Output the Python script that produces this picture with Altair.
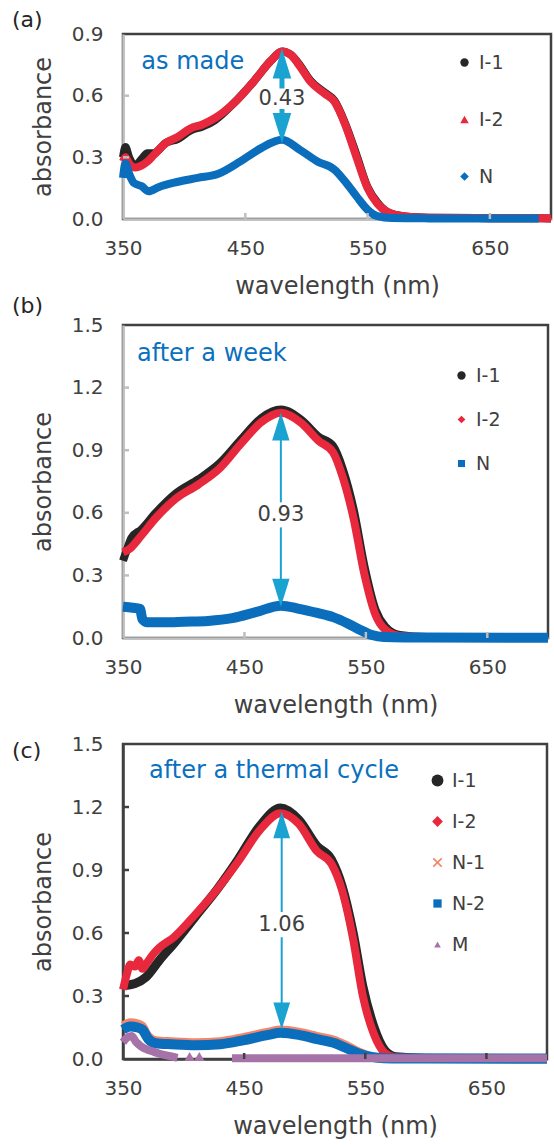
import altair as alt
import pandas as pd

FONT = "DejaVu Sans"
C_I1 = "#262626"
C_I2 = "#e8283c"
C_N = "#0a6ebd"
C_N1 = "#f4876b"
C_M = "#a673a8"
C_ARROW = "#1aa3d1"
C_TEXTBLUE = "#0a70c0"
C_TXT = "#404040"
C_LIGHT = "#bfbfbf"

X_TICKS = [350, 450, 550, 650]

# ---------------- panel (a): as made ----------------
a_I1_wl = [350, 352, 355, 360, 365, 370, 375, 385, 395, 405, 415, 425, 440, 457, 471, 480, 487, 495, 503, 515, 523, 532, 541, 550, 558, 566, 581, 600, 650, 700]
a_I1 = [0.30, 0.35, 0.30, 0.26, 0.29, 0.32, 0.32, 0.37, 0.39, 0.43, 0.45, 0.48, 0.56, 0.67, 0.77, 0.815, 0.80, 0.745, 0.675, 0.615, 0.575, 0.46, 0.31, 0.155, 0.08, 0.035, 0.012, 0.006, 0.004, 0.003]
a_I2_wl = [350, 352, 355, 360, 365, 370, 375, 385, 395, 405, 415, 425, 440, 457, 471, 480, 487, 495, 503, 515, 523, 532, 541, 550, 558, 566, 581, 600, 650, 700]
a_I2 = [0.28, 0.30, 0.27, 0.25, 0.26, 0.28, 0.31, 0.37, 0.40, 0.44, 0.46, 0.49, 0.56, 0.67, 0.77, 0.815, 0.80, 0.74, 0.67, 0.61, 0.57, 0.455, 0.30, 0.15, 0.075, 0.035, 0.012, 0.006, 0.004, 0.003]
a_N_wl = [350, 352, 355, 359, 365, 371, 379, 394, 411, 428, 446, 463, 480, 495, 509, 523, 532, 541, 550, 558, 570, 600, 650, 690]
a_N = [0.20, 0.27, 0.22, 0.175, 0.16, 0.135, 0.155, 0.18, 0.20, 0.22, 0.28, 0.345, 0.385, 0.335, 0.28, 0.24, 0.18, 0.11, 0.045, 0.014, 0.005, 0.003, 0.002, 0.002]

# ---------------- panel (b): after a week ----------------
b_I1_wl = [350, 353, 357, 365, 377, 394, 412, 430, 447, 464, 480, 497, 511, 523, 531, 540, 549, 558, 566, 578, 600, 650, 700]
b_I1 = [0.37, 0.42, 0.48, 0.52, 0.60, 0.695, 0.76, 0.84, 0.95, 1.055, 1.095, 1.045, 0.965, 0.92, 0.81, 0.615, 0.34, 0.135, 0.055, 0.015, 0.005, 0.004, 0.003]
b_I2_wl = [350, 356, 365, 377, 394, 412, 430, 447, 464, 480, 497, 511, 523, 531, 540, 549, 558, 566, 578, 600, 650, 700]
b_I2 = [0.41, 0.43, 0.49, 0.575, 0.67, 0.735, 0.815, 0.93, 1.035, 1.08, 1.03, 0.945, 0.89, 0.77, 0.57, 0.30, 0.11, 0.04, 0.01, 0.005, 0.004, 0.003]
b_N_wl = [350, 358, 364, 366, 370, 385, 400, 420, 440, 460, 480, 495, 510, 523, 535, 545, 555, 565, 600, 700]
b_N = [0.15, 0.145, 0.14, 0.09, 0.075, 0.075, 0.078, 0.082, 0.095, 0.125, 0.155, 0.14, 0.12, 0.10, 0.07, 0.04, 0.014, 0.005, 0.002, 0.001]

# ---------------- panel (c): after a thermal cycle ----------------
c_I1_wl = [350, 360, 369, 380, 392, 410, 428, 445, 463, 480, 495, 510, 522, 531, 540, 548, 557, 566, 575, 600, 650, 700]
c_I1 = [0.35, 0.36, 0.39, 0.47, 0.55, 0.68, 0.81, 0.95, 1.11, 1.195, 1.14, 1.015, 0.95, 0.82, 0.60, 0.345, 0.155, 0.043, 0.011, 0.004, 0.003, 0.003]
c_I2_wl = [350, 353, 356, 360, 363, 366, 370, 375, 380, 392, 410, 428, 445, 463, 480, 495, 510, 522, 531, 540, 548, 557, 566, 575, 600, 650, 700]
c_I2 = [0.33, 0.40, 0.45, 0.44, 0.47, 0.43, 0.46, 0.50, 0.53, 0.58, 0.69, 0.81, 0.94, 1.09, 1.17, 1.12, 0.99, 0.93, 0.80, 0.57, 0.30, 0.12, 0.03, 0.008, 0.004, 0.003, 0.003]
c_N1_wl = [350, 356, 362, 366, 371, 377, 390, 410, 430, 450, 470, 480, 495, 510, 525, 535, 545, 555, 565, 600, 700]
c_N1 = [0.16, 0.175, 0.17, 0.16, 0.11, 0.09, 0.085, 0.08, 0.085, 0.105, 0.13, 0.14, 0.13, 0.11, 0.09, 0.065, 0.035, 0.014, 0.005, 0.002, 0.001]
c_N2_wl = [350, 356, 362, 366, 371, 377, 390, 410, 430, 450, 470, 480, 495, 510, 525, 535, 545, 555, 565, 600, 700]
c_N2 = [0.14, 0.155, 0.15, 0.14, 0.095, 0.075, 0.07, 0.065, 0.07, 0.09, 0.115, 0.125, 0.115, 0.095, 0.075, 0.05, 0.025, 0.01, 0.004, 0.002, 0.001]
c_M1_wl = [350, 353, 357, 361, 365, 370, 375, 380, 388, 395]
c_M1 = [0.08, 0.10, 0.11, 0.08, 0.06, 0.045, 0.035, 0.025, 0.015, 0.005]
c_M2_wl = [440, 500, 560, 620, 700]
c_M2 = [0.003, 0.003, 0.003, 0.003, 0.003]
c_Mpt_wl = [405, 413]
c_Mpt = [0.012, 0.012]

# arrows
a_arrow = dict(x=480, up=0.757, down=0.443, seg_top=[0.757, 0.635], seg_bot=[0.535, 0.443], lab_y=0.585, lab="0.43")
b_arrow = dict(x=480, up=1.013, down=0.217, seg_top=[1.013, 0.65], seg_bot=[0.53, 0.217], lab_y=0.59, lab="0.93")
c_arrow = dict(x=481, up=1.115, down=0.205, seg_top=[1.115, 0.70], seg_bot=[0.58, 0.205], lab_y=0.64, lab="1.06")

UP = "M0,-1L0.62,1L-0.62,1Z"
DOWN = "M0,1L0.62,-1L-0.62,-1Z"
XSHAPE = "M-1,-0.75L-0.75,-1L0,-0.25L0.75,-1L1,-0.75L0.25,0L1,0.75L0.75,1L0,0.25L-0.75,1L-1,0.75L-0.25,0Z"


def sdf(wl, vals, name):
    return pd.DataFrame({"wl": wl, "abs": vals, "series": name})


def build_panel(series, ymax, yvals, width, height, axis_color, legend_pos, row_pad,
                arrow, arrow_w, head_size, note, note_xy, tag, tag_y, extra=None):
    xscale = alt.Scale(domain=[350, 700], nice=False, zero=False)
    yscale = alt.Scale(domain=[0, ymax], nice=False, zero=True)
    xaxis = alt.Axis(values=X_TICKS, title="wavelength (nm)", grid=False, ticks=False,
                     domainColor=axis_color, domainWidth=2.5, labelFlush=False,
                     labelFont=FONT, labelFontSize=20, labelColor=C_TXT, labelPadding=19,
                     titleFont=FONT, titleFontSize=24, titleFontWeight="normal",
                     titleColor=C_TXT, titlePadding=16)
    yaxis = alt.Axis(values=yvals, format=".1f", title="absorbance", grid=False, ticks=False,
                     domainColor=axis_color, domainWidth=2.5, labelFlush=False,
                     labelFont=FONT, labelFontSize=20, labelColor=C_TXT, labelPadding=20,
                     titleFont=FONT, titleFontSize=24, titleFontWeight="normal",
                     titleColor=C_TXT, titlePadding=16)
    X = alt.X("wl:Q", scale=xscale, axis=xaxis)
    Y = alt.Y("abs:Q", scale=yscale, axis=yaxis)

    layers = []
    names, colors, shapes, sizes = [], [], [], []
    for (wl, vals, name, color, shape, sw, msize) in series:
        names.append(name)
        colors.append(color)
        shapes.append(shape)
        sizes.append(msize)
        layers.append(alt.Chart(sdf(wl, vals, name)).mark_line(
            color=color, strokeWidth=sw, interpolate="monotone").encode(x=X, y=Y))
    if extra is not None:
        for ch in extra(X, Y):
            layers.append(ch)

    # inside ticks
    xt = pd.DataFrame({"t": X_TICKS[1:]})
    layers.append(alt.Chart(xt).mark_rule(color=axis_color, strokeWidth=2.5).encode(
        x=alt.X("t:Q", scale=xscale, axis=xaxis), y=alt.value(height), y2=alt.value(height - 6)))
    yt = pd.DataFrame({"t": yvals[1:-1]})
    layers.append(alt.Chart(yt).mark_rule(color=axis_color, strokeWidth=2.5).encode(
        y=alt.Y("t:Q", scale=yscale, axis=yaxis), x=alt.value(0), x2=alt.value(6)))

    # double arrow
    seg = pd.DataFrame({"x": [arrow["x"], arrow["x"]],
                        "y1": [arrow["seg_top"][0], arrow["seg_bot"][0]],
                        "y2": [arrow["seg_top"][1], arrow["seg_bot"][1]]})
    layers.append(alt.Chart(seg).mark_rule(color=C_ARROW, strokeWidth=arrow_w).encode(
        x=alt.X("x:Q", scale=xscale, axis=xaxis), y=alt.Y("y1:Q", scale=yscale, axis=yaxis), y2="y2:Q"))
    for shp, key in [(UP, "up"), (DOWN, "down")]:
        hd = pd.DataFrame({"x": [arrow["x"]], "y": [arrow[key]]})
        layers.append(alt.Chart(hd).mark_point(shape=shp, filled=True, color=C_ARROW, opacity=1,
                                               size=head_size, strokeWidth=0).encode(
            x=alt.X("x:Q", scale=xscale, axis=xaxis), y=alt.Y("y:Q", scale=yscale, axis=yaxis)))
    lab = pd.DataFrame({"x": [arrow["x"]], "y": [arrow["lab_y"]], "t": [arrow["lab"]]})
    layers.append(alt.Chart(lab).mark_text(font=FONT, fontSize=21, color=C_TXT, align="center",
                                           baseline="middle").encode(
        x=alt.X("x:Q", scale=xscale, axis=xaxis), y=alt.Y("y:Q", scale=yscale, axis=yaxis), text="t:N"))

    # condition note
    nd = pd.DataFrame({"x": [note_xy[0]], "y": [note_xy[1]], "t": [note]})
    layers.append(alt.Chart(nd).mark_text(font=FONT, fontSize=24, color=C_TEXTBLUE, align="left",
                                          baseline="middle").encode(
        x=alt.X("x:Q", scale=xscale, axis=xaxis), y=alt.Y("y:Q", scale=yscale, axis=yaxis), text="t:N"))

    # panel tag
    tg = pd.DataFrame({"t": [tag]})
    layers.append(alt.Chart(tg).mark_text(font=FONT, fontSize=22, color=C_I1, align="left",
                                          baseline="middle").encode(
        x=alt.value(-111), y=alt.value(tag_y), text="t:N"))

    # legend (invisible points carrying the legend)
    leg = alt.Legend(orient="none", legendX=legend_pos[0], legendY=legend_pos[1], title=None,
                     labelFont=FONT, labelFontSize=19, labelColor=C_TXT,
                     rowPadding=row_pad, labelOffset=5, symbolStrokeWidth=0, symbolOpacity=1,
                     padding=0, offset=0)
    ldf = pd.concat([sdf(s[0][:1], s[1][:1], s[2]) for s in series], ignore_index=True)
    layers.append(alt.Chart(ldf).mark_point(filled=True, opacity=0).encode(
        x=alt.X("wl:Q", scale=xscale, axis=xaxis),
        y=alt.Y("abs:Q", scale=yscale, axis=yaxis),
        color=alt.Color("series:N", scale=alt.Scale(domain=names, range=colors), legend=leg, sort=names),
        shape=alt.Shape("series:N", scale=alt.Scale(domain=names, range=shapes), legend=leg, sort=names),
        size=alt.Size("series:N", scale=alt.Scale(domain=names, range=sizes), legend=leg, sort=names)))

    return alt.layer(*layers).properties(width=width, height=height)


panel_a = build_panel(
    [(a_I1_wl, a_I1, "I-1", C_I1, "circle", 8, 70),
     (a_I2_wl, a_I2, "I-2", C_I2, "triangle-up", 8, 75),
     (a_N_wl, a_N, "N", C_N, "diamond", 8, 60)],
    0.9, [0.0, 0.3, 0.6, 0.9], 428, 185, C_LIGHT, (332, 19), 37,
    a_arrow, 5, 900, "as made", (365, 0.764), "(a)", -14)

panel_b = build_panel(
    [(b_I1_wl, b_I1, "I-1", C_I1, "circle", 8, 70),
     (b_I2_wl, b_I2, "I-2", C_I2, "diamond", 8, 50),
     (b_N_wl, b_N, "N", C_N, "square", 10, 75)],
    1.5, [0.0, 0.3, 0.6, 0.9, 1.2, 1.5], 425, 313, C_LIGHT, (329, 41), 24,
    b_arrow, 2, 784, "after a week", (361.5, 1.359), "(b)", -19)


def c_extra(X, Y):
    out = []
    for wl, vals in [(c_M1_wl, c_M1), (c_M2_wl, c_M2)]:
        out.append(alt.Chart(sdf(wl, vals, "M")).mark_line(color=C_M, strokeWidth=8,
                                                          interpolate="monotone").encode(x=X, y=Y))
    out.append(alt.Chart(sdf(c_Mpt_wl, c_Mpt, "M")).mark_point(shape="triangle-up", filled=True,
                                                               color=C_M, size=110, opacity=1).encode(x=X, y=Y))
    return out


panel_c = build_panel(
    [(c_I1_wl, c_I1, "I-1", C_I1, "circle", 9, 140),
     (c_I2_wl, c_I2, "I-2", C_I2, "diamond", 8, 45),
     (c_N1_wl, c_N1, "N-1", C_N1, XSHAPE, 8, 90),
     (c_N2_wl, c_N2, "N-2", C_N, "square", 10, 75),
     (c_M1_wl, c_M1, "M", C_M, "triangle-up", 0.01, 160)],
    1.5, [0.0, 0.3, 0.6, 0.9, 1.2, 1.5], 424, 315, C_TXT, (305, 27), 21,
    c_arrow, 2, 729, "after a thermal cycle", (371.5, 1.371), "(c)", 7, extra=c_extra)

chart = alt.vconcat(panel_a, panel_b, panel_c, spacing=106, bounds="flush").resolve_scale(
    color="independent", shape="independent", size="independent"
).properties(
    autosize=alt.AutoSizeParams(type="none"),
    padding={"left": 123, "top": 34, "right": 431, "bottom": 1111},
).configure(font=FONT).configure_view(stroke=C_TXT, strokeWidth=2.5, fill="white"
).configure_legend(offset=0, padding=0)

chart.save("out.html", embed_options={"renderer": "svg", "actions": False})
